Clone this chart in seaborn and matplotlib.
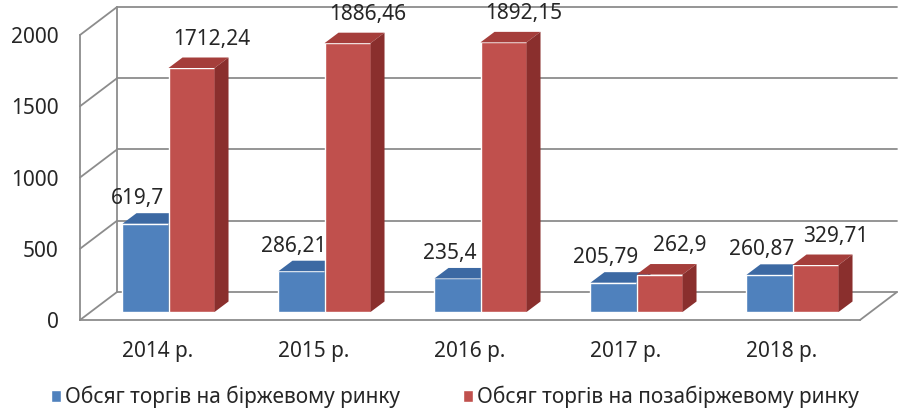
import matplotlib
matplotlib.use("Agg")
import matplotlib.pyplot as plt
from matplotlib.lines import Line2D
from matplotlib.patches import Patch, Polygon
from matplotlib.transforms import IdentityTransform, offset_copy
import numpy as np
import pandas as pd
import seaborn as sns

# data
years = ["2014 р.", "2015 р.", "2016 р.", "2017 р.", "2018 р."]
exchange = [619.70, 286.21, 235.40, 205.79, 260.87]
otc = [1712.24, 1886.46, 1892.15, 262.90, 329.71]
series_names = [
    "Обсяг торгів на біржевому ринку",
    "Обсяг торгів на позабіржевому ринку",
]
yticks = [0, 500, 1000, 1500, 2000]

BLUE, BLUE_TOP, BLUE_SIDE = "#4F81BD", "#3C69A3", "#2F5480"
RED, RED_TOP, RED_SIDE = "#C0504D", "#A53E3B", "#8A2F2D"
GRID = "#8C8C8C"

# pseudo-3d geometry, in pixels
WALL_DX, WALL_DY = 37, 28     # depth of the floor / back wall
BAR_DX, BAR_DY = 10.5, 8      # bars sit a bit behind the front plane
DEPTH_DX, DEPTH_DY = 14, 10.5  # depth of each bar

sns.set_style("white")
plt.rcParams["font.family"] = ["Noto Sans", "DejaVu Sans"]

df = pd.DataFrame({
    "year": years * 2,
    "series": [series_names[0]] * len(years) + [series_names[1]] * len(years),
    "value": exchange + otc,
})

fig = plt.figure(figsize=(9, 4.11), dpi=100)
ax = fig.add_axes([80 / 900, 91 / 411, 780 / 900, 285 / 411])

sns.barplot(
    data=df, x="year", y="value", hue="series",
    palette=[BLUE, RED], saturation=1, width=0.59, gap=0,
    legend=False, ax=ax,
)
ax.set_xlim(-0.5, len(years) - 0.5)
ax.set_ylim(0, 2000)
ax.set_xlabel("")
ax.set_ylabel("")

# axes styling: front vertical axis and front floor edge
for side in ("top", "right"):
    ax.spines[side].set_visible(False)
for side in ("left", "bottom"):
    ax.spines[side].set_color(GRID)
    ax.spines[side].set_linewidth(1.3)
ax.set_yticks(yticks)
ax.tick_params(axis="y", length=4, color=GRID, width=1.2, labelsize=15, pad=11.5)
ax.tick_params(axis="x", which="major", length=0, labelsize=15, pad=15)
ax.set_xticks(np.arange(-0.5, len(years)), minor=True)
ax.tick_params(axis="x", which="minor", length=6, color=GRID, width=1.2)

wall_tr = offset_copy(ax.transData, fig=fig, x=WALL_DX, y=WALL_DY, units="dots")
bar_tr = offset_copy(ax.transData, fig=fig, x=BAR_DX, y=BAR_DY, units="dots")
px = IdentityTransform()
x_lo, x_hi = ax.get_xlim()

# back wall gridlines + left wall diagonals + floor edges
for v in yticks:
    ax.plot([x_lo, x_hi], [v, v], color=GRID, lw=1.3, transform=wall_tr,
            clip_on=False, zorder=1)
    front = ax.transData.transform((x_lo, v))
    ax.add_line(Line2D([front[0], front[0] + WALL_DX], [front[1], front[1] + WALL_DY],
                       color=GRID, lw=1.3, transform=px, clip_on=False, zorder=1))
ax.plot([x_lo, x_lo], [0, 2000], color=GRID, lw=1.3, transform=wall_tr,
        clip_on=False, zorder=1)
corner = ax.transData.transform((x_hi, 0))
ax.add_line(Line2D([corner[0], corner[0] + WALL_DX], [corner[1], corner[1] + WALL_DY],
                   color=GRID, lw=1.3, transform=px, clip_on=False, zorder=1))

# extrude the bars
faces = [(BLUE_TOP, BLUE_SIDE, 3), (RED_TOP, RED_SIDE, 4)]
label_off = [(-8, 25), (20, 29)]
for (top_c, side_c, z), cont, loff in zip(faces, ax.containers, label_off):
    for bar in cont.patches:
        bar.set_transform(bar_tr)
        bar.set_zorder(z)
        bar.set_clip_on(False)
        x0, w, h = bar.get_x(), bar.get_width(), bar.get_height()
        ftl, ftr, fbr = bar_tr.transform([(x0, h), (x0 + w, h), (x0 + w, 0)])
        d = np.array([DEPTH_DX, DEPTH_DY])
        ax.add_patch(Polygon([ftl, ftr, ftr + d, ftl + d], closed=True,
                             facecolor=top_c, edgecolor="none",
                             transform=px, clip_on=False, zorder=z))
        ax.add_patch(Polygon([ftr, fbr, fbr + d, ftr + d], closed=True,
                             facecolor=side_c, edgecolor="none",
                             transform=px, clip_on=False, zorder=z))
        ax.annotate(f"{h:g}".replace(".", ","), xy=(x0 + w / 2, h), xycoords=bar_tr,
                    xytext=loff, textcoords="offset pixels",
                    ha="center", va="center", fontsize=15, zorder=5,
                    annotation_clip=False)

handles = [Patch(facecolor=BLUE), Patch(facecolor=RED)]
fig.legend(handles, series_names, loc="center", bbox_to_anchor=(455 / 900, 14 / 411),
           ncol=2, frameon=False, fontsize=15, handlelength=0.48,
           handleheight=0.48, handletextpad=0.2, columnspacing=3.0)

fig.savefig("out.png", dpi=100)
